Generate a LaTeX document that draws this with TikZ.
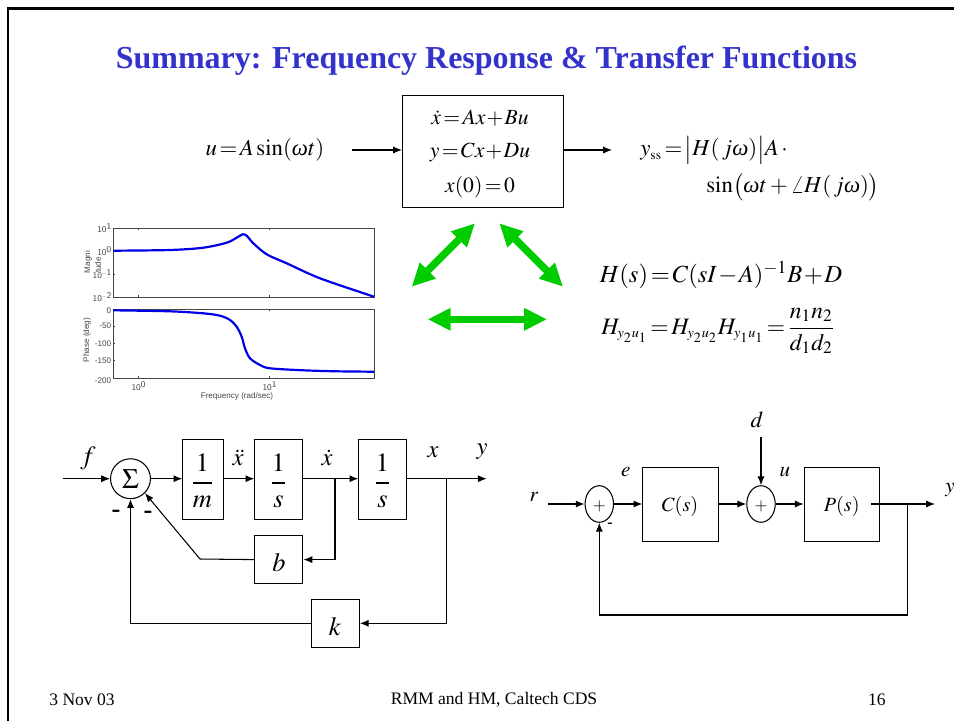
\documentclass[tikz,border=0pt]{standalone}
\usepackage{mathptmx}
\usepackage{amsmath}
\usepackage[no-math]{fontspec}
\setmainfont{Liberation Serif}
\newfontfamily\plotfont{Liberation Sans}
\usetikzlibrary{arrows.meta,shapes.geometric}
\definecolor{titleblue}{RGB}{51,51,204}
\definecolor{arrowgreen}{RGB}{0,204,0}
\definecolor{plotblue}{RGB}{0,0,230}
\definecolor{plotgray}{RGB}{70,70,70}
\newcommand{\omegait}{\mbox{\itshape ω}}
\newcommand{\tightmath}{\thickmuskip=2mu\relax\medmuskip=1mu\relax}
\tikzset{
  blockbox/.style={draw,rectangle,line width=0.6pt,inner sep=0pt,anchor=north west},
  sumnode/.style={draw,circle,line width=0.6pt,inner sep=0pt,minimum size=22.7pt},
  ovalnode/.style={draw,ellipse,line width=0.6pt,inner sep=0pt,minimum width=16.2pt,minimum height=20.8pt},
  sigarrow/.style={-{Latex[length=5pt,width=4pt]},line width=0.6pt},
  siglabel/.style={inner sep=0pt,font=\fontsize{12.5}{13}\selectfont},
  eqnlabel/.style={inner sep=0pt,font=\fontsize{13}{14}\selectfont},
  boxlabel/.style={inner sep=0pt,font=\fontsize{12.3}{13}\selectfont},
  biglabel/.style={inner sep=0pt,font=\fontsize{14}{15}\selectfont},
  bigarrow/.style={{Triangle[length=13pt,width=12pt]}-{Triangle[length=13pt,width=12pt]},arrowgreen,line width=4.2pt},
  plottext/.style={inner sep=0pt,text=plotgray,font=\plotfont\fontsize{4.6}{5}\selectfont},
  plotaxes/.style={draw=plotgray,line width=0.45pt},
  plotcurve/.style={plotblue,line width=1.25pt,line join=round},
  footlabel/.style={inner sep=0pt,font=\fontsize{10}{12}\selectfont},
  minuslabel/.style={inner sep=0pt,font=\bfseries\fontsize{15}{16}\selectfont}
}
\begin{document}
\begin{tikzpicture}[x={(0.02cm,0cm)}, y={(0cm,-0.02cm)}]
  \useasboundingbox (0,0) rectangle (954,721);
  % Frame
  \draw[line width=1.4pt] (8,721) -- (8,8.5) -- (954,8.5);
  % Title and footer
  \node[inner sep=0pt,text=titleblue,font=\bfseries\fontsize{18.2}{20}\selectfont] (Title) at (486.5,61) {Summary: Frequency Response \& Transfer Functions};
  \node[footlabel,anchor=west] (Date) at (49,699.5) {3 Nov 03};
  \node[footlabel] (Authors) at (494,699.5) {RMM and HM, Caltech CDS};
  \node[footlabel,anchor=east] (Page) at (886,699.5) {16};

  % State space block
  \node[eqnlabel] (Input) at (265,150) {\tightmath$u = A\sin(\omegait t)$};
  \node[blockbox,minimum width=91.8pt,minimum height=63.5pt] (System) at (402,95) {};
  \node[boxlabel] (EqnOne) at (480,118) {\tightmath$\dot{x} = Ax + Bu$};
  \node[boxlabel] (EqnTwo) at (480,152) {\tightmath$y = Cx + Du$};
  \node[boxlabel] (EqnThree) at (480,187) {\tightmath$x(0) = 0$};
  \node[eqnlabel,anchor=west] (OutputOne) at (640,150) {\tightmath$y_{\scriptscriptstyle\mathrm{ss}} = \bigl|H(\,j\omegait)\bigr|A\,\cdot$};
  \node[eqnlabel,anchor=west] (OutputTwo) at (706,187) {$\sin\bigl(\omegait t + \angle H(\,j\omegait)\bigr)$};
  \coordinate (InEnd) at (352,150);
  \coordinate (OutEnd) at (612,150);
  \draw[sigarrow] (InEnd) -- (System.west |- InEnd);
  \draw[sigarrow] (System.east |- OutEnd) -- (OutEnd);

  % Green arrows
  \coordinate (GreenA) at (411.7,286.7);
  \coordinate (GreenB) at (475,223.3);
  \coordinate (GreenC) at (499.3,223.3);
  \coordinate (GreenD) at (563,286.7);
  \coordinate (GreenE) at (427.7,319.3);
  \coordinate (GreenF) at (547,319.3);
  \draw[bigarrow] (GreenA) -- (GreenB);
  \draw[bigarrow] (GreenC) -- (GreenD);
  \draw[bigarrow] (GreenE) -- (GreenF);

  % Transfer functions
  \node[biglabel] (Hone) at (721,275) {\tightmath$H(s) = C(sI - A)^{-1}B + D$};
  \node[biglabel,font=\fontsize{13.4}{15}\selectfont] (Htwo) at (718,331) {\tightmath$H_{\scriptscriptstyle y_2u_1} = H_{\scriptscriptstyle y_2u_2}H_{\scriptscriptstyle y_1u_1} = \dfrac{n_1n_2}{d_1d_2}$};

  % Bode plot
  \draw[plotaxes] (113,228) rectangle (374,297);
  \draw[plotaxes] (113,309) rectangle (374,378);
  \foreach \ticky in {228,251,274,297} {
    \draw[plotaxes] (113,\ticky) -- (115,\ticky);
  }
  \foreach \ticky in {309,326.2,343.5,360.8,378} {
    \draw[plotaxes] (113,\ticky) -- (115,\ticky);
  }
  \foreach \tickx in {138,269} {
    \draw[plotaxes] (\tickx,297) -- (\tickx,295);
    \draw[plotaxes] (\tickx,228) -- (\tickx,230);
    \draw[plotaxes] (\tickx,378) -- (\tickx,376);
    \draw[plotaxes] (\tickx,309) -- (\tickx,311);
  }
  \draw[plotcurve] plot[smooth,tension=0.5] coordinates {(113.3,250.7) (170,250) (203.3,247.7) (226.7,242.7) (236.7,237.7) (242.7,234.3) (246.7,235.7) (253.3,243.3) (266.7,254.3) (286.7,263.3) (320,278.3) (374,296.7)};
  \draw[plotcurve] plot[smooth,tension=0.5] coordinates {(113.3,310.3) (170,311.3) (203.3,313.3) (220,315.7) (230,320) (236.7,326.7) (241.7,336.7) (245,348.3) (250,358.3) (260,365) (270,368.3) (303.3,370.3) (336.7,371.3) (374,371.7)};
  \foreach \labtext/\laby in {10^1/228,10^0/251,10^{-1}/274,10^{-2}/297} {
    \node[plottext,anchor=east] at (112.5,\laby) {$\mathsf{\labtext}$};
  }
  \foreach \labtext/\laby in {0/311,-50/326,-100/344,-150/361,-200/380.5} {
    \node[plottext,anchor=east] at (111.5,\laby) {\labtext};
  }
  \node[plottext] (XtickA) at (139,386) {$\mathsf{10^0}$};
  \node[plottext] (XtickB) at (270,386) {$\mathsf{10^1}$};
  \node[plottext] (FreqLabel) at (237,396) {Frequency (rad/sec)};
  \node[plottext,rotate=90] (MagLabelA) at (88,262) {Magni};
  \node[plottext,rotate=90] (MagLabelB) at (98,265) {tude};
  \node[plottext,rotate=90] (PhaseLabel) at (87,340) {Phase (deg)};

  % Mass spring damper
  \node[sumnode] (Sum) at (130.5,478.7) {\fontsize{16}{17}\selectfont$\Sigma$};
  \node[blockbox,minimum width=22.9pt,minimum height=45.5pt] (Mass) at (182.3,439) {};
  \node[siglabel,font=\fontsize{15}{16}\selectfont] (MassText) at (202.5,481) {$\dfrac{1}{m}$};
  \node[blockbox,minimum width=27.4pt,minimum height=45.5pt] (IntOne) at (254.3,439) {};
  \node[siglabel,font=\fontsize{15}{16}\selectfont] (IntOneText) at (278.5,481) {$\dfrac{1}{s}$};
  \node[blockbox,minimum width=27.4pt,minimum height=45.5pt] (IntTwo) at (358.3,439) {};
  \node[siglabel,font=\fontsize{15}{16}\selectfont] (IntTwoText) at (382.5,481) {$\dfrac{1}{s}$};
  \node[blockbox,minimum width=27.4pt,minimum height=27.4pt] (Damper) at (254.3,535) {};
  \node[siglabel,font=\fontsize{15}{16}\selectfont] (DamperText) at (279,563) {$b$};
  \node[blockbox,minimum width=27.4pt,minimum height=27.4pt] (Spring) at (310.7,598.7) {};
  \node[siglabel,font=\fontsize{15}{16}\selectfont] (SpringText) at (335,627) {$k$};
  \coordinate (ForceIn) at (62.7,478.7);
  \coordinate (PosOut) at (486.7,478.7);
  \coordinate (VelTap) at (335,478.7);
  \coordinate (PosTap) at (446.7,478.7);
  \coordinate (DampBend) at (200,559);
  \draw[sigarrow] (ForceIn) -- (Sum);
  \draw[sigarrow] (Sum) -- (Mass.west |- Sum);
  \draw[sigarrow] (Mass.east |- Sum) -- (IntOne.west |- Sum);
  \draw[sigarrow] (IntOne.east |- Sum) -- (IntTwo.west |- Sum);
  \draw[sigarrow] (IntTwo.east |- Sum) -- (PosOut);
  \draw[sigarrow] (VelTap) |- (Damper.east);
  \draw[sigarrow] (PosTap) |- (Spring.east);
  \draw[sigarrow] (Damper.west) -- (DampBend) -- (Sum.-45);
  \draw[sigarrow] (Spring.west) -| (Sum.south);
  \node[siglabel,font=\fontsize{15}{16}\selectfont] (LabF) at (88,458) {$f$};
  \node[siglabel,font=\fontsize{14}{15}\selectfont] (LabXdd) at (238,458) {$\ddot{x}$};
  \node[siglabel,font=\fontsize{14}{15}\selectfont] (LabXd) at (327,458) {$\dot{x}$};
  \node[siglabel,font=\fontsize{14}{15}\selectfont] (LabX) at (433,452) {$x$};
  \node[siglabel,font=\fontsize{14}{15}\selectfont] (LabY) at (482,452) {$y$};
  \node[minuslabel] (MinusA) at (116,514) {-};
  \node[minuslabel] (MinusB) at (148,515) {-};

  % Feedback loop
  \node[ovalnode] (SumE) at (599.3,504) {};
  \node[inner sep=0pt,font=\fontsize{9.5}{10}\selectfont] (SumEText) at (599.3,506) {$+$};
  \node[ovalnode] (SumU) at (761,504) {};
  \node[inner sep=0pt,font=\fontsize{9.5}{10}\selectfont] (SumUText) at (761,506) {$+$};
  \node[blockbox,minimum width=43.1pt,minimum height=42pt] (Controller) at (642.3,467.3) {};
  \node[siglabel,font=\fontsize{11.5}{12}\selectfont] (ControllerText) at (680,506) {$C(s)$};
  \node[blockbox,minimum width=43.1pt,minimum height=42pt] (Plant) at (803.7,467.3) {};
  \node[siglabel,font=\fontsize{11.5}{12}\selectfont] (PlantText) at (841.7,506) {$P(s)$};
  \coordinate (RefIn) at (548,504);
  \coordinate (DistIn) at (761,437);
  \coordinate (PlantOut) at (871,504);
  \coordinate (OutEndB) at (935,504);
  \coordinate (OutTap) at (907.7,504);
  \coordinate (LoopB) at (907.7,615);
  \draw[sigarrow] (RefIn) -- (SumE.west);
  \draw[sigarrow] (SumE.east) -- (Controller.west |- SumE);
  \draw[sigarrow] (Controller.east |- SumE) -- (SumU.west);
  \draw[sigarrow] (SumU.east) -- (Plant.west |- SumU);
  \draw[sigarrow] (DistIn) -- (SumU.north);
  \draw[sigarrow] (PlantOut) -- (OutEndB);
  \draw[line width=1pt] (Plant.east |- PlantOut) -- (OutTap);
  \draw[sigarrow] (OutTap) -- (LoopB) -| (SumE.south);
  \node[siglabel,font=\fontsize{12}{13}\selectfont] (LabR) at (534,497) {$r$};
  \node[siglabel,font=\fontsize{12}{13}\selectfont] (LabE) at (625.7,472) {$e$};
  \node[siglabel,font=\fontsize{13}{14}\selectfont] (LabD) at (757,420) {$d$};
  \node[siglabel,font=\fontsize{12}{13}\selectfont] (LabU) at (785,472) {$u$};
  \node[siglabel,font=\fontsize{12}{13}\selectfont] (LabYB) at (950,490) {$y$};
  \node[inner sep=0pt,font=\bfseries\fontsize{9}{10}\selectfont] (MinusC) at (610,525) {-};
\end{tikzpicture}
\end{document}
